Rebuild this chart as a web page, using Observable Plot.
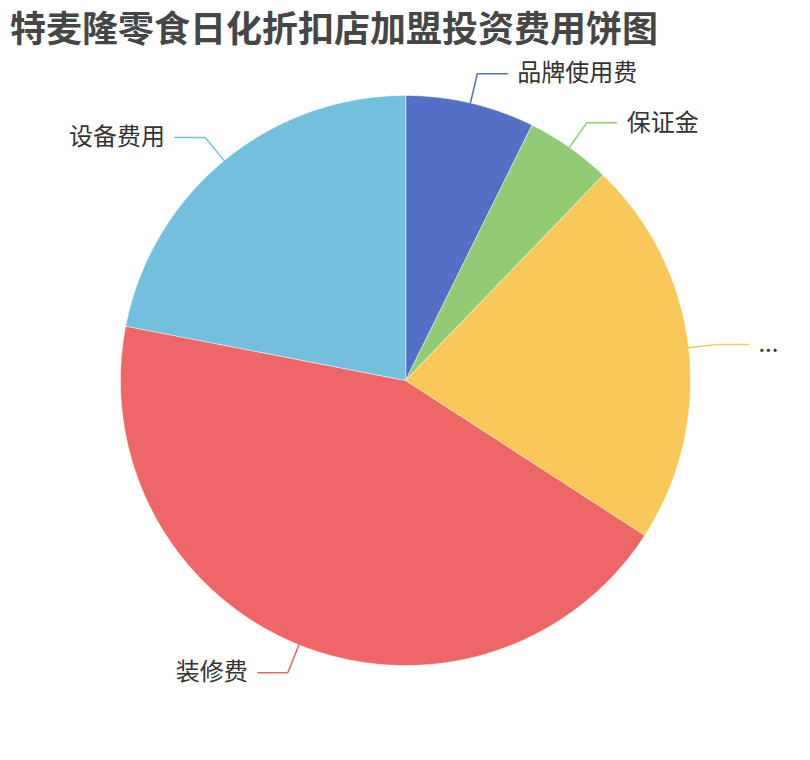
<!DOCTYPE html>
<html>
<head>
<meta charset="utf-8">
<script src="https://cdn.jsdelivr.net/npm/d3@7"></script>
<script src="https://cdn.jsdelivr.net/npm/@observablehq/plot@0.6"></script>
<style>
  body { margin: 0; background: #fff; font-family: "Noto Sans CJK SC", "Noto Sans", sans-serif; }
  #title { height: 52px; margin: 0; padding: 0 0 0 10px; font-size: 36px; font-weight: bold; color: #464646; line-height: 52px; white-space: nowrap; }
  #chart svg { display: block; }
</style>
</head>
<body>
<div id="title">特麦隆零食日化折扣店加盟投资费用饼图</div>
<div id="chart"></div>
<script>
const categories = ["品牌使用费", "保证金", "...", "装修费", "设备费用"];
const values = [3, 2, 9, 18, 9];
const colors = ["#5470c6", "#91cc75", "#fac858", "#ee6666", "#73c0de"];

const W = 810, H = 708;
const R = 285;            // pie radius in px
const cx = 405, cy = 328; // pie centre in svg px
const len1 = 30 / R, len2 = 30 / R;

const data = categories.map((name, i) => ({ name, value: values[i] }));
const arcs = d3.pie().sort(null).value(d => d.value)(data);

// slice polygons in unit coordinates (x right, y up)
const slicePts = [];
arcs.forEach(a => {
  slicePts.push({ name: a.data.name, x: 0, y: 0 });
  const n = Math.max(2, Math.ceil((a.endAngle - a.startAngle) / 0.01));
  for (let k = 0; k <= n; k++) {
    const t = a.startAngle + (a.endAngle - a.startAngle) * k / n;
    slicePts.push({ name: a.data.name, x: Math.sin(t), y: Math.cos(t) });
  }
});

// label lines + label anchors
const linePts = [];
const labels = [];
arcs.forEach(a => {
  const m = (a.startAngle + a.endAngle) / 2;
  const sx = Math.sin(m), sy = Math.cos(m);
  const right = sx >= 0;
  const p0 = { x: sx, y: sy };
  const p1 = { x: sx * (1 + len1), y: sy * (1 + len1) };
  const p2 = { x: p1.x + (right ? len2 : -len2), y: p1.y };
  [p0, p1, p2].forEach(p => linePts.push({ name: a.data.name, ...p }));
  labels.push({ name: a.data.name, x: p2.x, y: p2.y, right });
});

const plot = Plot.plot({
  width: W, height: H,
  margin: 0,
  x: { domain: [-cx / R, (W - cx) / R], axis: null },
  y: { domain: [(cy - H) / R, cy / R], axis: null },
  color: { domain: categories, range: colors },
  style: { fontFamily: '"Noto Sans CJK SC", "Noto Sans", sans-serif', background: "#fff" },
  marks: [
    Plot.line(slicePts, { x: "x", y: "y", z: "name", fill: "name", stroke: "#fff", strokeWidth: 0.5, curve: "linear-closed" }),
    Plot.line(linePts, { x: "x", y: "y", z: "name", stroke: "name", strokeWidth: 1.5 }),
    Plot.text(labels.filter(d => d.right), { x: "x", y: "y", text: "name", textAnchor: "start", dx: 10, fontSize: 24, fill: "#333" }),
    Plot.text(labels.filter(d => !d.right), { x: "x", y: "y", text: "name", textAnchor: "end", dx: -10, fontSize: 24, fill: "#333" })
  ]
});
document.getElementById("chart").appendChild(plot);
</script>
</body>
</html>
